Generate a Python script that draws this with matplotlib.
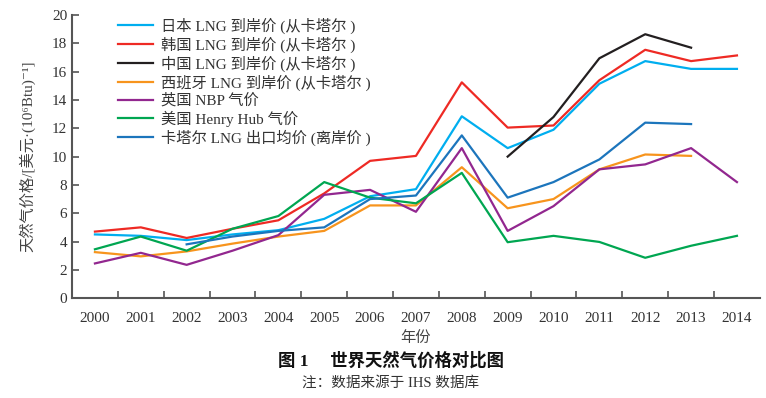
import matplotlib
matplotlib.use("Agg")
import matplotlib.pyplot as plt
import numpy as np

plt.rcParams['font.family'] = ['Liberation Serif', 'Noto Sans CJK SC', 'DejaVu Serif']

years = ['2000', '2001', '2002', '2003', '2004', '2005', '2006', '2007',
         '2008', '2009', '2010', '2011', '2012', '2013', '2014']
nan = np.nan

japan = [4.5, 4.4, 4.1, 4.5, 4.8, 5.6, 7.2, 7.7, 12.85, 10.6, 11.9, 15.15, 16.75, 16.2, 16.2]
korea = [4.7, 5.0, 4.25, 4.9, 5.5, 7.4, 9.7, 10.05, 15.25, 12.05, 12.2, 15.4, 17.55, 16.75, 17.15]
china = [nan, nan, nan, nan, nan, nan, nan, nan, nan, 10.0, 12.8, 16.95, 18.65, 17.7, nan]
spain = [3.25, 2.95, 3.3, 3.85, 4.35, 4.75, 6.55, 6.55, 9.25, 6.35, 7.0, 9.1, 10.15, 10.05, nan]
uk_nbp = [2.45, 3.2, 2.35, 3.35, 4.45, 7.3, 7.65, 6.1, 10.6, 4.75, 6.5, 9.1, 9.45, 10.6, 8.2]
us_hh = [3.45, 4.35, 3.35, 4.9, 5.8, 8.2, 7.1, 6.7, 8.85, 3.95, 4.4, 3.97, 2.85, 3.7, 4.4]
qatar = [nan, nan, 3.8, 4.35, 4.75, 5.0, 7.0, 7.25, 11.5, 7.1, 8.2, 9.8, 12.4, 12.3, nan]

series = [
    ('日本 LNG 到岸价 (从卡塔尔 )', japan, '#00aeef'),
    ('韩国 LNG 到岸价 (从卡塔尔 )', korea, '#ee2a24'),
    ('中国 LNG 到岸价 (从卡塔尔 )', china, '#231f20'),
    ('西班牙 LNG 到岸价 (从卡塔尔 )', spain, '#f7941d'),
    ('英国 NBP 气价', uk_nbp, '#92278f'),
    ('美国 Henry Hub 气价', us_hh, '#00a651'),
    ('卡塔尔 LNG 出口均价 (离岸价 )', qatar, '#1c75bc'),
]

fig = plt.figure(figsize=(7.66, 3.98), dpi=100)
ax = fig.add_axes([0.094, 0.251, 0.898, 0.711])

x = np.arange(len(years))
for label, vals, color in series:
    ax.plot(x, vals, color=color, lw=1.6, label=label)

grey = '#555555'
ax.set_xlim(-0.5, len(years) - 0.5)
ax.set_ylim(0, 20)
ax.set_yticks(range(0, 21, 2))
ax.set_xticks(x)
ax.set_xticklabels(years)
ax.set_xticks(np.arange(0.5, len(years) - 1, 1), minor=True)
ax.tick_params(axis='x', which='major', length=0, pad=10, labelsize=11, colors='#333333')
ax.tick_params(axis='x', which='minor', direction='in', length=5, color=grey, width=1.2)
ax.tick_params(axis='y', direction='in', length=5, color=grey, width=1.2,
               labelsize=11, labelcolor='#333333')
for s in ['top', 'right']:
    ax.spines[s].set_visible(False)
for s in ['left', 'bottom']:
    ax.spines[s].set_color(grey)
    ax.spines[s].set_linewidth(1.5)

ax.set_ylabel('天然气价格/[美元·(10⁶Btu)⁻¹]', fontsize=11, color='#444444', labelpad=12)
ax.set_xlabel('年份', fontsize=11, color='#444444', labelpad=4)

ax.legend(loc='upper left', bbox_to_anchor=(0.047, 1.04), frameon=False, fontsize=11,
          handlelength=2.3, handletextpad=0.5, labelspacing=0.18, labelcolor='#333333')

fig.text(0.51, 0.093, '图 1　 世界天然气价格对比图', ha='center', va='center',
         fontsize=12.5, fontweight='bold', color='#111111')
fig.text(0.51, 0.038, '注：数据来源于 IHS 数据库', ha='center', va='center',
         fontsize=10.5, color='#333333')

fig.savefig('out.png', dpi=100)
